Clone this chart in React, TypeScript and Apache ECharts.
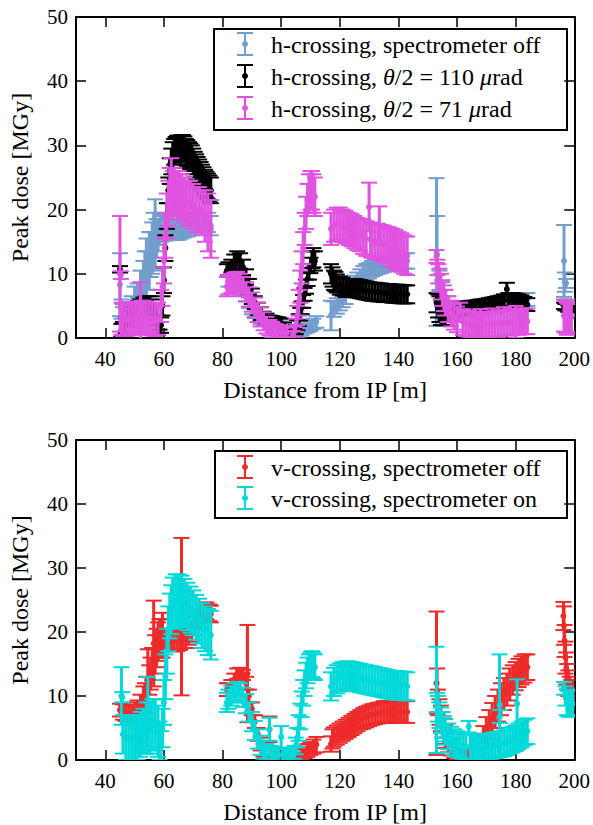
import React, { useEffect, useRef } from 'react';
import * as echarts from 'echarts';

const FONT = 'Liberation Serif';

// ---- tick values ----
const xTickValues = [40, 60, 80, 100, 120, 140, 160, 180, 200];
const xTopTickValues = [40, 60, 80, 100, 120, 140, 160, 180];

// ---- series: [distance (m), peak dose (MGy), error (MGy)] ----
const hOff: number[][] = [
  [45, 8.3, 4.9], [45.5, 4.5, 1.5], [46, 3.5, 1.3], [47, 3.8, 1.3], [48, 4.2, 1.4], [49, 5, 1.5], [50, 6, 2], [51, 6.5, 2],
  [52, 8, 2.5], [53, 9, 3], [53.5, 10, 3.5], [54, 11, 4.5], [54.5, 10.5, 3], [55, 12, 4.5], [55.5, 13, 3.5], [56, 14, 4],
  [56.5, 15, 4.5], [57, 16.2, 5.4], [57.5, 15.5, 3], [58, 16, 2.5], [58.5, 16.5, 2], [59, 17, 2], [60, 17.2, 2], [61, 17, 1.8],
  [62, 16.8, 1.5], [63, 16.8, 1.5], [64, 16.8, 1.5], [65, 16.8, 1.5], [66, 17, 1.5], [67, 17.2, 1.5], [68, 17.3, 1.5],
  [69, 17.5, 1.5], [70, 17.8, 1.5], [71, 18, 1.5], [72, 18, 1.5], [73, 18, 1.5], [74, 18, 1.5], [75, 18, 1.5], [76, 17.5, 1.5],
  [82, 8.8, 0.8], [83, 8.8, 0.8], [84, 8.7, 0.8], [85, 8.6, 0.8], [86, 8.3, 0.8], [87, 7.5, 0.8], [88, 6.5, 0.8], [89, 5.5, 0.8],
  [90, 4.5, 0.8], [91, 3.8, 0.7], [92, 3.2, 0.7], [93, 2.8, 0.6], [94, 2.6, 0.6], [95, 2.5, 0.6], [96, 2.4, 0.6], [97, 2.4, 0.6],
  [98, 2.5, 0.6], [99, 2.6, 0.6], [100, 2.5, 0.6], [101, 2, 0.6], [102, 1.2, 0.6],
  [104, 0.3, 0.4], [105, 0.5, 0.5], [106, 0.7, 0.5], [107, 1, 0.6], [108, 1.3, 0.6], [109, 1.6, 0.7], [110, 1.9, 0.8],
  [111, 2.2, 0.8], [112, 2.5, 0.9],
  [117, 3.5, 2.3], [118, 4.5, 1.2], [119, 5, 1.2], [120, 5.5, 1.2], [121, 6, 1.2], [122, 6.5, 1.2], [123, 7.5, 1.2],
  [124, 8, 1.2], [125, 8.5, 1.2], [126, 9, 1.2], [127, 9.5, 1.2], [128, 10, 1.2], [129, 10.3, 1.2], [130, 10.5, 1.2],
  [131, 10.8, 1.2], [132, 11, 1.2], [133, 11.2, 1.2], [134, 11.3, 1.2], [135, 11.5, 1.2], [136, 11.6, 1.2], [137, 11.7, 1.2],
  [138, 11.8, 1.2], [139, 11.9, 1.2], [140, 12, 1.2], [141, 12, 1.2], [142, 12, 1.2], [143, 12, 1.2],
  [153, 13.4, 11.5], [153.2, 13, 6], [154, 9, 1.5], [155, 7.5, 1.2], [156, 6.5, 1], [157, 5.5, 1], [158, 5, 0.8],
  [159, 4.6, 0.8], [160, 4.4, 0.8], [161, 4.3, 0.8], [162, 4.2, 0.8], [163, 4.2, 0.8], [164, 4.2, 0.8], [165, 4.3, 0.8],
  [166, 4.3, 0.8], [167, 4.4, 0.8], [168, 4.4, 0.8], [169, 4.5, 0.8], [170, 4.6, 0.8], [171, 4.7, 0.9], [172, 4.8, 0.9],
  [173, 4.9, 0.9], [174, 5, 0.9], [175, 5.2, 1], [176, 5.3, 1], [177, 5.5, 1], [178, 5.6, 1], [179, 5.7, 1], [180, 5.8, 1],
  [181, 5.9, 1], [182, 6, 1], [183, 6, 1], [184, 6, 1],
  [196.5, 12, 5.6], [196.8, 8.7, 1.5], [197.2, 8.5, 0.7], [198, 5, 1], [199, 4.5, 1],
];

const hTheta110: number[][] = [
  [45, 10.7, 0.5], [45.5, 1.2, 1], [46, 1.5, 1], [47, 2, 1.2], [48, 3, 1.2], [49, 3.5, 1.3], [50, 4, 1.4], [51, 4.3, 1.4],
  [52, 4.5, 1.5], [53, 4.8, 1.5], [54, 5, 1.5], [55, 5, 1.5], [56, 4.5, 1.5], [57, 3.5, 1.5], [58, 2, 1.5],
  [58.5, 0.5, 0.8], [59, 2, 1.2], [59.5, 5, 1.5], [60, 9, 2], [60.5, 14, 2], [61, 19, 2], [61.5, 23, 2], [62, 26, 2],
  [62.5, 27.5, 2], [63, 28.5, 2], [63.5, 29, 2], [64, 29.3, 2], [64.5, 29.5, 2], [65, 29.5, 2], [65.5, 29.5, 2],
  [66, 29.6, 2], [66.5, 29.6, 2], [67, 29.4, 2], [67.5, 29, 2], [68, 28.8, 2], [68.5, 28.5, 2], [69, 28.3, 2],
  [69.5, 28, 2], [70, 27.5, 2], [70.5, 27, 2], [71, 26.6, 2], [71.5, 26.2, 2], [72, 25.8, 2], [72.5, 25.4, 2],
  [73, 25, 2], [73.5, 24.6, 2], [74, 24.2, 2], [74.5, 23.9, 2], [75, 23.6, 2], [75.5, 23.3, 2], [76, 23, 2],
  [81.5, 10.5, 1], [82, 10.8, 1], [83, 11.2, 1], [84, 11.8, 1.2], [85, 12.3, 1.2], [86, 12, 1.2], [87, 11, 1.2],
  [88, 9.5, 1.2], [89, 8, 1.2], [90, 6.5, 1.2], [91, 5.5, 1], [92, 4.5, 1], [93, 3.8, 1], [94, 3.3, 0.8], [95, 3, 0.8],
  [96, 2.8, 0.7], [97, 2.7, 0.7], [98, 2.6, 0.7], [99, 2.5, 0.7], [100, 2.3, 0.7], [101, 1.8, 0.6], [102, 1, 0.6],
  [103, 0.5, 0.5],
  [104, 0.3, 0.5], [104.5, 0.8, 0.6], [105, 1.3, 0.7], [105.5, 2, 0.8], [106, 2.8, 0.9], [106.5, 3.7, 1], [107, 4.7, 1],
  [107.5, 5.7, 1], [108, 6.8, 1], [108.5, 8, 1.1], [109, 9.2, 1.1], [109.5, 10.3, 1.2], [110, 11.3, 1.2],
  [110.5, 12.2, 1.3], [111, 12.5, 1.5], [111.5, 12, 1.5],
  [117, 10, 1.5], [117.5, 9.5, 1.5], [118, 9, 1.5], [118.5, 8.8, 1.5], [119, 8.5, 1.4], [120, 8.2, 1.4], [121, 8, 1.4],
  [122, 7.8, 1.4], [123, 7.8, 1.4], [124, 7.8, 1.4], [125, 7.8, 1.4], [126, 7.7, 1.4], [127, 7.6, 1.4], [128, 7.5, 1.4],
  [129, 7.4, 1.4], [130, 7.3, 1.4], [131, 7.2, 1.4], [132, 7.2, 1.4], [133, 7.1, 1.4], [134, 7.1, 1.4], [135, 7, 1.4],
  [136, 7, 1.4], [137, 7, 1.4], [138, 6.9, 1.4], [139, 6.9, 1.4], [140, 6.9, 1.4], [141, 6.8, 1.4], [142, 6.8, 1.4],
  [143, 6.8, 1.4],
  [153, 5.5, 1.5], [153.5, 5, 1.8], [154, 4.5, 2], [154.5, 4, 2], [155, 3.5, 1.5], [156, 3.2, 1.2], [157, 3.5, 1],
  [158, 4, 1], [159, 4.3, 1], [160, 4.5, 1], [161, 4.6, 1], [162, 4.6, 1], [163, 4.7, 1], [164, 4.7, 1], [165, 4.8, 1],
  [166, 4.8, 1], [167, 4.9, 1], [168, 5, 1], [169, 5, 1], [170, 5.1, 1], [171, 5.2, 1], [172, 5.3, 1], [173, 5.4, 1],
  [174, 5.5, 1], [175, 5.6, 1], [176, 5.8, 1], [177, 7.6, 1], [177.5, 6, 1], [178, 6, 1], [179, 6, 1], [180, 5.9, 1],
  [181, 5.8, 1], [182, 5.6, 1], [183, 5.4, 1], [184, 5.2, 1],
  [196.5, 5, 0.5], [197, 4.8, 0.5], [198, 4.6, 0.5], [199, 4.5, 0.5],
];

const hTheta71: number[][] = [
  [45, 10, 9], [45.3, 9.8, 0.6], [45.5, 3, 2.5], [46, 2.8, 2.5], [47, 2.8, 2.5], [48, 2.9, 2.5], [49, 3, 2.5],
  [50, 3.1, 2.5], [51, 3.2, 2.5], [52, 4, 4.7], [52.5, 3.3, 2.5], [53, 3.3, 2.5], [54, 3.2, 2.5], [55, 3, 2.5],
  [56, 2.9, 2.5], [57, 2.8, 2.5], [58, 3, 2.5],
  [59, 5, 2.5], [59.5, 8, 3], [60, 12, 3.5], [60.5, 16, 3.5], [61, 19, 3.5], [61.5, 21, 3.5], [62, 22.5, 4],
  [62.5, 23.5, 4.5], [63, 22.5, 3.5], [63.5, 23, 3.5], [64, 22.5, 3.5], [64.5, 22, 3.5], [65, 22.5, 3.5], [66, 22, 3.5],
  [67, 21.5, 3.5], [68, 21, 3.5], [69, 21, 3.5], [70, 20.5, 3.5], [71, 20, 3.5], [72, 20, 3.5], [73, 19.5, 3.5],
  [74, 19, 4], [75, 18, 4.5], [76, 17, 4.5],
  [81.5, 8, 1.5], [82, 8.3, 1.5], [83, 8.5, 1.5], [84, 8.7, 1.5], [85, 8.8, 1.5], [86, 8.5, 1.5], [87, 8, 1.5],
  [88, 7.2, 1.5], [89, 6.4, 1.5], [90, 5.6, 1.5], [91, 4.8, 1.5], [92, 4, 1.5], [93, 3.3, 1.5], [94, 2.6, 1.4],
  [95, 2, 1.3], [96, 1.6, 1.2], [97, 1.3, 1.2], [98, 1.1, 1.1], [99, 1, 1], [100, 0.9, 1], [101, 0.8, 0.9], [102, 0.8, 0.8],
  [104, 0.5, 0.6], [104.5, 1, 0.8], [105, 2, 1], [105.5, 3.5, 1.5], [106, 5.5, 2], [106.5, 8, 2.5], [107, 11, 2.5],
  [107.5, 14, 2.5], [108, 17, 2.5], [108.5, 19.5, 2.5], [109, 21.5, 2.5], [109.5, 22.5, 3], [110, 23, 3],
  [110.5, 23, 3], [111, 22.5, 3], [111.5, 22, 3],
  [117, 17, 2.5], [118, 17.5, 2.5], [119, 17.8, 2.5], [120, 17.8, 2.5], [121, 17.5, 2.5], [122, 17.3, 2.5],
  [123, 17, 2.5], [124, 16.8, 2.5], [125, 16.5, 2.5], [126, 16.2, 2.5], [127, 16, 2.5], [128, 15.8, 2.7],
  [129, 15.5, 2.7], [130, 20.4, 3.8], [130.5, 15.3, 2.7], [131, 15.2, 2.7], [132, 15, 2.7], [133, 15, 2.8],
  [133.5, 17.5, 3], [134, 14.8, 2.8], [135, 14.7, 2.8], [136, 14.5, 2.8], [137, 14.2, 3], [138, 14, 3], [139, 13.8, 3],
  [140, 13.5, 3], [141, 13.3, 3], [142, 13, 3], [143, 12.8, 3],
  [153, 12.7, 1], [153.3, 11, 1.2], [153.6, 10, 1.5], [154, 9, 1.8], [154.5, 8, 2], [155, 7, 2], [155.5, 6.2, 2],
  [156, 5.5, 2], [157, 4.5, 2], [158, 3.8, 2], [159, 3.3, 2], [160, 2.9, 2], [161, 4, 1.5], [162, 2.5, 2],
  [163, 2.3, 2], [164, 2.2, 2], [165, 2.1, 2], [166, 2, 2], [167, 2, 2], [168, 2, 2.5], [169, 2, 2], [170, 2, 2],
  [171, 2.1, 2], [172, 2.1, 2.5], [173, 2.2, 2], [174, 2.2, 2], [175, 2.3, 2], [176, 2.3, 2.5], [177, 2.4, 2],
  [178, 2.4, 2], [179, 2.5, 2], [180, 2.5, 2.5], [181, 2.5, 2], [182, 2.6, 2], [183, 2.6, 2], [184, 2.6, 2],
  [196.5, 3.5, 2.5], [197, 3.3, 2.5], [197.5, 3, 2.5], [198, 3, 2.3], [198.5, 3.2, 2.3], [199, 3.2, 2.3],
];

const vOff: number[][] = [
  [45, 7.8, 1], [46, 7.5, 1.2], [47, 7.3, 1.2], [48, 7.2, 1.2], [49, 7.3, 1.3], [50, 7.5, 1.5], [51, 7.8, 1.5],
  [52, 8.5, 1.7], [53, 9.5, 2], [53.5, 10, 2], [54, 11, 2], [54.5, 11.8, 5.5], [55, 12.5, 2.3], [55.5, 13.5, 2.5],
  [56, 15, 2.5], [56.5, 18.2, 6.7], [57, 16.5, 3], [57.5, 17.5, 3], [58, 18.5, 3], [58.5, 19, 3], [59, 19, 3],
  [59.5, 19.5, 3.5],
  [60.5, 19, 1.5], [61.5, 19, 1.5], [62.5, 18.5, 1.5], [63.5, 18.5, 1.5], [64.5, 18.5, 1.5], [65.5, 18.7, 1.5],
  [66, 22.4, 12.3], [66.5, 19, 1.5], [67.5, 19, 1.5], [68.5, 19.5, 1.5], [69.5, 20, 1.5], [70.5, 21, 1.5],
  [71.5, 22, 1.5], [72.5, 23, 1.5], [73.5, 23.3, 1.3], [74.5, 23.3, 1.3], [75.5, 23, 1.3], [76, 22.8, 1.3],
  [81.5, 11, 1], [82, 11, 1], [83, 11.5, 1], [84, 12.5, 1], [85, 13.5, 0.8], [86, 13.6, 0.8], [87, 13.3, 0.8],
  [88, 12, 1], [88.5, 13.5, 7.6], [89, 10, 1], [90, 8, 1], [91, 6, 1], [92, 4, 1], [93, 2.5, 1], [94, 1.5, 1],
  [95, 1, 1], [96, 4.8, 2], [97, 0.5, 0.8], [98, 0.3, 0.6], [99, 0.2, 0.5], [100, 0.2, 0.5], [101, 0.2, 0.5],
  [102, 0.2, 0.5], [103, 0.2, 0.5],
  [105, 0.3, 0.6], [106, 0.6, 0.7], [107, 0.9, 0.8], [108, 1.2, 0.9], [109, 1.5, 1], [110, 1.8, 1], [111, 2.1, 1.1],
  [112, 2.4, 1.2],
  [117, 2.5, 1.2], [117.5, 3.3, 1.5], [118, 3.6, 1.5], [119, 3.9, 1.5], [120, 4.2, 1.5], [121, 4.5, 1.5],
  [122, 4.8, 1.5], [123, 5.1, 1.5], [124, 5.4, 1.5], [125, 5.7, 1.5], [126, 6, 1.5], [127, 6.3, 1.5], [128, 6.5, 1.6],
  [129, 6.7, 1.6], [130, 6.9, 1.6], [131, 7.1, 1.6], [132, 7.2, 1.6], [133, 7.3, 1.6], [134, 7.4, 1.6],
  [135, 7.5, 1.7], [136, 7.5, 1.7], [137, 7.5, 1.7], [138, 7.5, 1.7], [139, 7.5, 1.7], [140, 7.5, 1.7],
  [141, 7.5, 1.7], [142, 7.5, 1.7], [143, 7.5, 1.7],
  [153, 12, 11.2], [153.2, 10.8, 3.5], [153.5, 9, 2], [154, 7.5, 2], [154.5, 6.5, 2], [155, 5.5, 2], [155.5, 4.5, 2],
  [156, 3.7, 1.8], [157, 2.7, 1.5], [158, 2, 1.3], [159, 1.4, 1.1], [160, 1, 1], [161, 0.7, 0.8], [162, 0.5, 0.7],
  [163, 0.5, 0.6], [164, 0.6, 0.7], [165, 0.8, 0.8], [166, 1.2, 1], [167, 1.8, 1.2], [168, 2.6, 1.5], [169, 3.5, 1.8],
  [170, 4.5, 2.2], [171, 5.5, 2.3], [172, 6.5, 2.4], [173, 7.5, 2.5], [174, 8.5, 2.5], [175, 9.5, 2.5], [176, 10.3, 2.5],
  [177, 11, 2.5], [178, 11.8, 2.5], [179, 12.5, 2.3], [180, 13.1, 2.2], [181, 13.6, 2.2], [182, 14, 2.2],
  [183, 14.3, 2.2], [184, 14.5, 2],
  [196.3, 22.5, 2.2], [196.5, 21, 3], [196.7, 18.6, 2.5], [197, 16, 2.5], [197.3, 14.3, 2.5], [197.6, 13, 2],
  [198, 12, 2], [198.5, 11.5, 1.5], [199, 11, 1.5], [199.5, 11, 1.5],
];

const vOn: number[][] = [
  [45.5, 10, 4.5], [45.8, 9.8, 0.8], [46, 4, 3], [47, 3.5, 3.5], [48, 3.5, 3.5], [49, 3.5, 3.5], [50, 3.5, 3.5],
  [51, 3.5, 3.5], [52, 4, 3.5], [53, 4.5, 3.5], [54, 5, 4], [54.5, 8, 5], [55, 5, 4], [56, 5.5, 4], [57, 5.5, 4],
  [58, 4.5, 4], [58.5, 3, 3],
  [59, 2, 2.5], [59.5, 5, 3], [60, 9, 3.5], [60.5, 13, 3.5], [61, 17, 3.5], [61.5, 20.5, 3.5], [62, 22.5, 3.5],
  [62.5, 23.5, 3.8], [63, 24.5, 4], [64, 25, 4], [65, 25, 4], [66, 24.8, 4], [67, 24.5, 3.8], [68, 24, 3.7],
  [69, 23.5, 3.6], [70, 23, 3.5], [71, 22.3, 3.5], [72, 21.7, 3.5], [73, 21, 3.5], [74, 20.5, 3.5], [75, 20, 3.6],
  [76, 19.5, 3.8],
  [81.5, 9, 1.5], [82, 9.5, 1.5], [83, 10, 1.5], [84, 10.5, 1.5], [85, 10.7, 1.5], [86, 10.5, 1.5], [87, 9.8, 1.5],
  [88, 8.8, 1.5], [89, 7.5, 1.5], [90, 6, 1.5], [91, 4.6, 1.5], [92, 3.3, 1.5], [93, 2.3, 1.5], [94, 1.6, 1.4],
  [95, 1.2, 1.3], [96, 4.8, 1.8], [96.5, 1, 1.2], [97, 0.9, 1.1], [98, 0.8, 1], [99, 0.8, 1], [100, 3.6, 1.7],
  [100.5, 0.8, 1], [101, 0.8, 1], [102, 0.8, 1], [103, 0.8, 1],
  [104, 0.5, 0.8], [104.5, 1.2, 1], [105, 2.2, 1.3], [105.5, 3.5, 1.5], [106, 5, 2], [106.5, 6.8, 2], [107, 8.7, 2],
  [107.5, 10.5, 2], [108, 12, 2], [108.5, 13.2, 2], [109, 14, 2], [109.5, 14.5, 2], [110, 14.8, 2], [110.5, 15, 2],
  [111, 14.8, 2], [111.5, 14.5, 2],
  [117, 11.5, 2.2], [118, 12.2, 2.2], [119, 12.6, 2.2], [120, 12.9, 2.2], [121, 13.1, 2.2], [122, 13.2, 2.2],
  [123, 13.2, 2.2], [124, 13.1, 2.2], [125, 13, 2.2], [126, 12.9, 2.2], [127, 12.8, 2.2], [128, 12.7, 2.2],
  [129, 12.6, 2.2], [130, 12.5, 2.2], [131, 12.4, 2.2], [132, 12.3, 2.2], [133, 12.2, 2.2], [134, 12.1, 2.2],
  [135, 12, 2.2], [136, 11.9, 2.2], [137, 11.8, 2.2], [138, 11.7, 2.2], [139, 11.7, 2.2], [140, 11.6, 2.2],
  [141, 11.6, 2.2], [142, 11.6, 2.2], [143, 11.5, 2.2],
  [153, 9.4, 8.3], [153.2, 9, 1.5], [153.5, 8, 2], [154, 7, 2], [154.5, 6.2, 2], [155, 5.5, 2], [155.5, 4.9, 2],
  [156, 4.4, 2], [157, 3.7, 2], [158, 3.2, 2], [159, 2.8, 2], [160, 2.5, 2], [161, 2.3, 2], [162, 2.2, 2],
  [163, 2.1, 2], [164, 5.2, 0.9], [164.5, 2, 2], [165, 2, 2], [166, 2, 2], [167, 2, 2], [168, 2, 2], [169, 2, 2],
  [170, 2, 2], [171, 2.1, 2], [172, 2.2, 2], [173, 2.3, 2], [174, 2.4, 2], [174.5, 8.6, 7.9], [174.6, 6.8, 1],
  [175, 2.5, 2], [176, 2.6, 2], [177, 2.8, 2], [178, 3, 2], [179, 3.2, 2], [180, 3.4, 2], [180.5, 8.8, 3.8],
  [181, 3.7, 2], [182, 4, 2], [183, 4.3, 2], [184, 4.5, 2],
  [196.5, 11.2, 1], [197, 10, 1.5], [197.5, 9, 2], [198, 8.8, 2], [198.5, 8.8, 2], [199, 8.8, 2], [199.5, 8.8, 2],
];

const COLORS = {
  hOff: '#729ece',
  h110: '#000000',
  h71: '#e052e0',
  vOff: '#ee2a2a',
  vOn: '#00d9d9',
};

function errorBarSeries(name: string, data: number[][], color: string, axisIndex: number) {
  return {
    type: 'custom',
    name,
    data,
    clip: true,
    xAxisIndex: axisIndex * 2,
    yAxisIndex: axisIndex * 2,
    encode: { x: 0, y: 1 },
    renderItem: (_params: any, api: any) => {
      const x = api.value(0);
      const y = api.value(1);
      const e = api.value(2);
      const c = api.coord([x, y]);
      const t = api.coord([x, y + e]);
      const b = api.coord([x, y - e]);
      const hw = 8;
      const cap = { stroke: color, lineWidth: 2 };
      const bar = { stroke: color, lineWidth: 3 };
      return {
        type: 'group',
        children: [
          { type: 'line', shape: { x1: c[0], y1: t[1], x2: c[0], y2: b[1] }, style: bar },
          { type: 'line', shape: { x1: c[0] - hw, y1: t[1], x2: c[0] + hw, y2: t[1] }, style: cap },
          { type: 'line', shape: { x1: c[0] - hw, y1: b[1], x2: c[0] + hw, y2: b[1] }, style: cap },
          { type: 'circle', shape: { cx: c[0], cy: c[1], r: 3 }, style: { fill: color } },
        ],
      };
    },
  };
}

const GRID_LEFT = 75;
const GRID_W = 502;
const GRID_H = 321;
const GRID_TOPS = [17, 440];
const NAME_SIZE = 24;
const TICK_SIZE = 21;

function xAxes(gridIndex: number) {
  const common = {
    type: 'value',
    gridIndex,
    min: 30,
    max: 200,
    splitLine: { show: false },
    axisLine: { show: true, onZero: false, lineStyle: { color: '#000', width: 2 } },
  };
  return [
    {
      ...common,
      position: 'bottom',
      axisTick: { show: true, inside: true, length: 10, customValues: xTickValues, lineStyle: { color: '#000', width: 1.5 } },
      axisLabel: { show: true, customValues: xTickValues, margin: 10, color: '#000', fontFamily: FONT, fontSize: TICK_SIZE },
      name: 'Distance from IP [m]',
      nameLocation: 'middle',
      nameGap: 40,
      nameTextStyle: { color: '#000', fontFamily: FONT, fontSize: NAME_SIZE },
    },
    {
      ...common,
      position: 'top',
      axisTick: { show: true, inside: true, length: 10, customValues: xTopTickValues, lineStyle: { color: '#000', width: 1.5 } },
      axisLabel: { show: false },
    },
  ];
}

function yAxes(gridIndex: number) {
  const common = {
    type: 'value',
    gridIndex,
    min: 0,
    max: 50,
    interval: 10,
    splitLine: { show: false },
    axisLine: { show: true, onZero: false, lineStyle: { color: '#000', width: 2 } },
    axisTick: { show: true, inside: true, length: 10, lineStyle: { color: '#000', width: 1.5 } },
  };
  return [
    {
      ...common,
      position: 'left',
      axisLabel: { show: true, margin: 8, color: '#000', fontFamily: FONT, fontSize: TICK_SIZE },
      name: 'Peak dose [MGy]',
      nameLocation: 'middle',
      nameGap: 44,
      nameTextStyle: { color: '#000', fontFamily: FONT, fontSize: NAME_SIZE },
    },
    { ...common, position: 'right', axisLabel: { show: false } },
  ];
}

function legendBox(x: number, y: number, w: number, h: number, items: { color: string; parts: [string, boolean][]; cy: number }[]) {
  const children: any[] = [
    { type: 'rect', shape: { x, y, width: w, height: h }, style: { fill: '#fff', stroke: '#000', lineWidth: 2 } },
  ];
  items.forEach((it) => {
    const cx = 245;
    const ls = { stroke: it.color, lineWidth: 2 };
    children.push(
      { type: 'line', shape: { x1: cx, y1: it.cy - 11, x2: cx, y2: it.cy + 11 }, style: ls },
      { type: 'line', shape: { x1: cx - 8, y1: it.cy - 11, x2: cx + 8, y2: it.cy - 11 }, style: ls },
      { type: 'line', shape: { x1: cx - 8, y1: it.cy + 11, x2: cx + 8, y2: it.cy + 11 }, style: ls },
      { type: 'circle', shape: { cx, cy: it.cy, r: 3 }, style: { fill: it.color } },
    );
    const text = it.parts.map(([s, ital]) => (ital ? `{i|${s}}` : `{n|${s}}`)).join('');
    children.push({
      type: 'text',
      x: 271,
      y: it.cy + 1,
      style: {
        text,
        fontFamily: FONT,
        fontSize: NAME_SIZE,
        fill: '#000',
        verticalAlign: 'middle',
        align: 'left',
        rich: {
          n: { fontFamily: FONT, fontSize: NAME_SIZE, fill: '#000' },
          i: { fontFamily: FONT, fontSize: NAME_SIZE, fontStyle: 'italic', fill: '#000' },
        },
      },
    });
  });
  return { type: 'group', z: 100, children };
}

export default function App() {
  const ref = useRef<HTMLDivElement>(null);
  useEffect(() => {
    if (!ref.current) return;
    const chart = echarts.init(ref.current, undefined, { renderer: 'svg' });
    chart.setOption({
      animation: false,
      backgroundColor: '#fff',
      textStyle: { fontFamily: FONT },
      grid: GRID_TOPS.map((top) => ({ left: GRID_LEFT, top, width: GRID_W, height: GRID_H })),
      xAxis: [...xAxes(0), ...xAxes(1)],
      yAxis: [...yAxes(0), ...yAxes(1)],
      series: [
        errorBarSeries('h-crossing, spectrometer off', hOff, COLORS.hOff, 0),
        errorBarSeries('h-crossing, θ/2 = 110 μrad', hTheta110, COLORS.h110, 0),
        errorBarSeries('h-crossing, θ/2 = 71 μrad', hTheta71, COLORS.h71, 0),
        errorBarSeries('v-crossing, spectrometer off', vOff, COLORS.vOff, 1),
        errorBarSeries('v-crossing, spectrometer on', vOn, COLORS.vOn, 1),
      ],
      graphic: [
        legendBox(214, 29, 353, 101, [
          { color: COLORS.hOff, parts: [['h-crossing, spectrometer off', false]], cy: 44 },
          { color: COLORS.h110, parts: [['h-crossing, ', false], ['θ', true], ['/2 = 110 ', false], ['μ', true], ['rad', false]], cy: 76 },
          { color: COLORS.h71, parts: [['h-crossing, ', false], ['θ', true], ['/2 = 71 ', false], ['μ', true], ['rad', false]], cy: 108 },
        ]),
        legendBox(215, 451, 352, 67, [
          { color: COLORS.vOff, parts: [['v-crossing, spectrometer off', false]], cy: 467 },
          { color: COLORS.vOn, parts: [['v-crossing, spectrometer on', false]], cy: 498 },
        ]),
      ],
    });
    return () => chart.dispose();
  }, []);
  return <div ref={ref} style={{ position: 'fixed', left: 0, top: 0, width: 593, height: 825, fontFamily: FONT }} />;
}
